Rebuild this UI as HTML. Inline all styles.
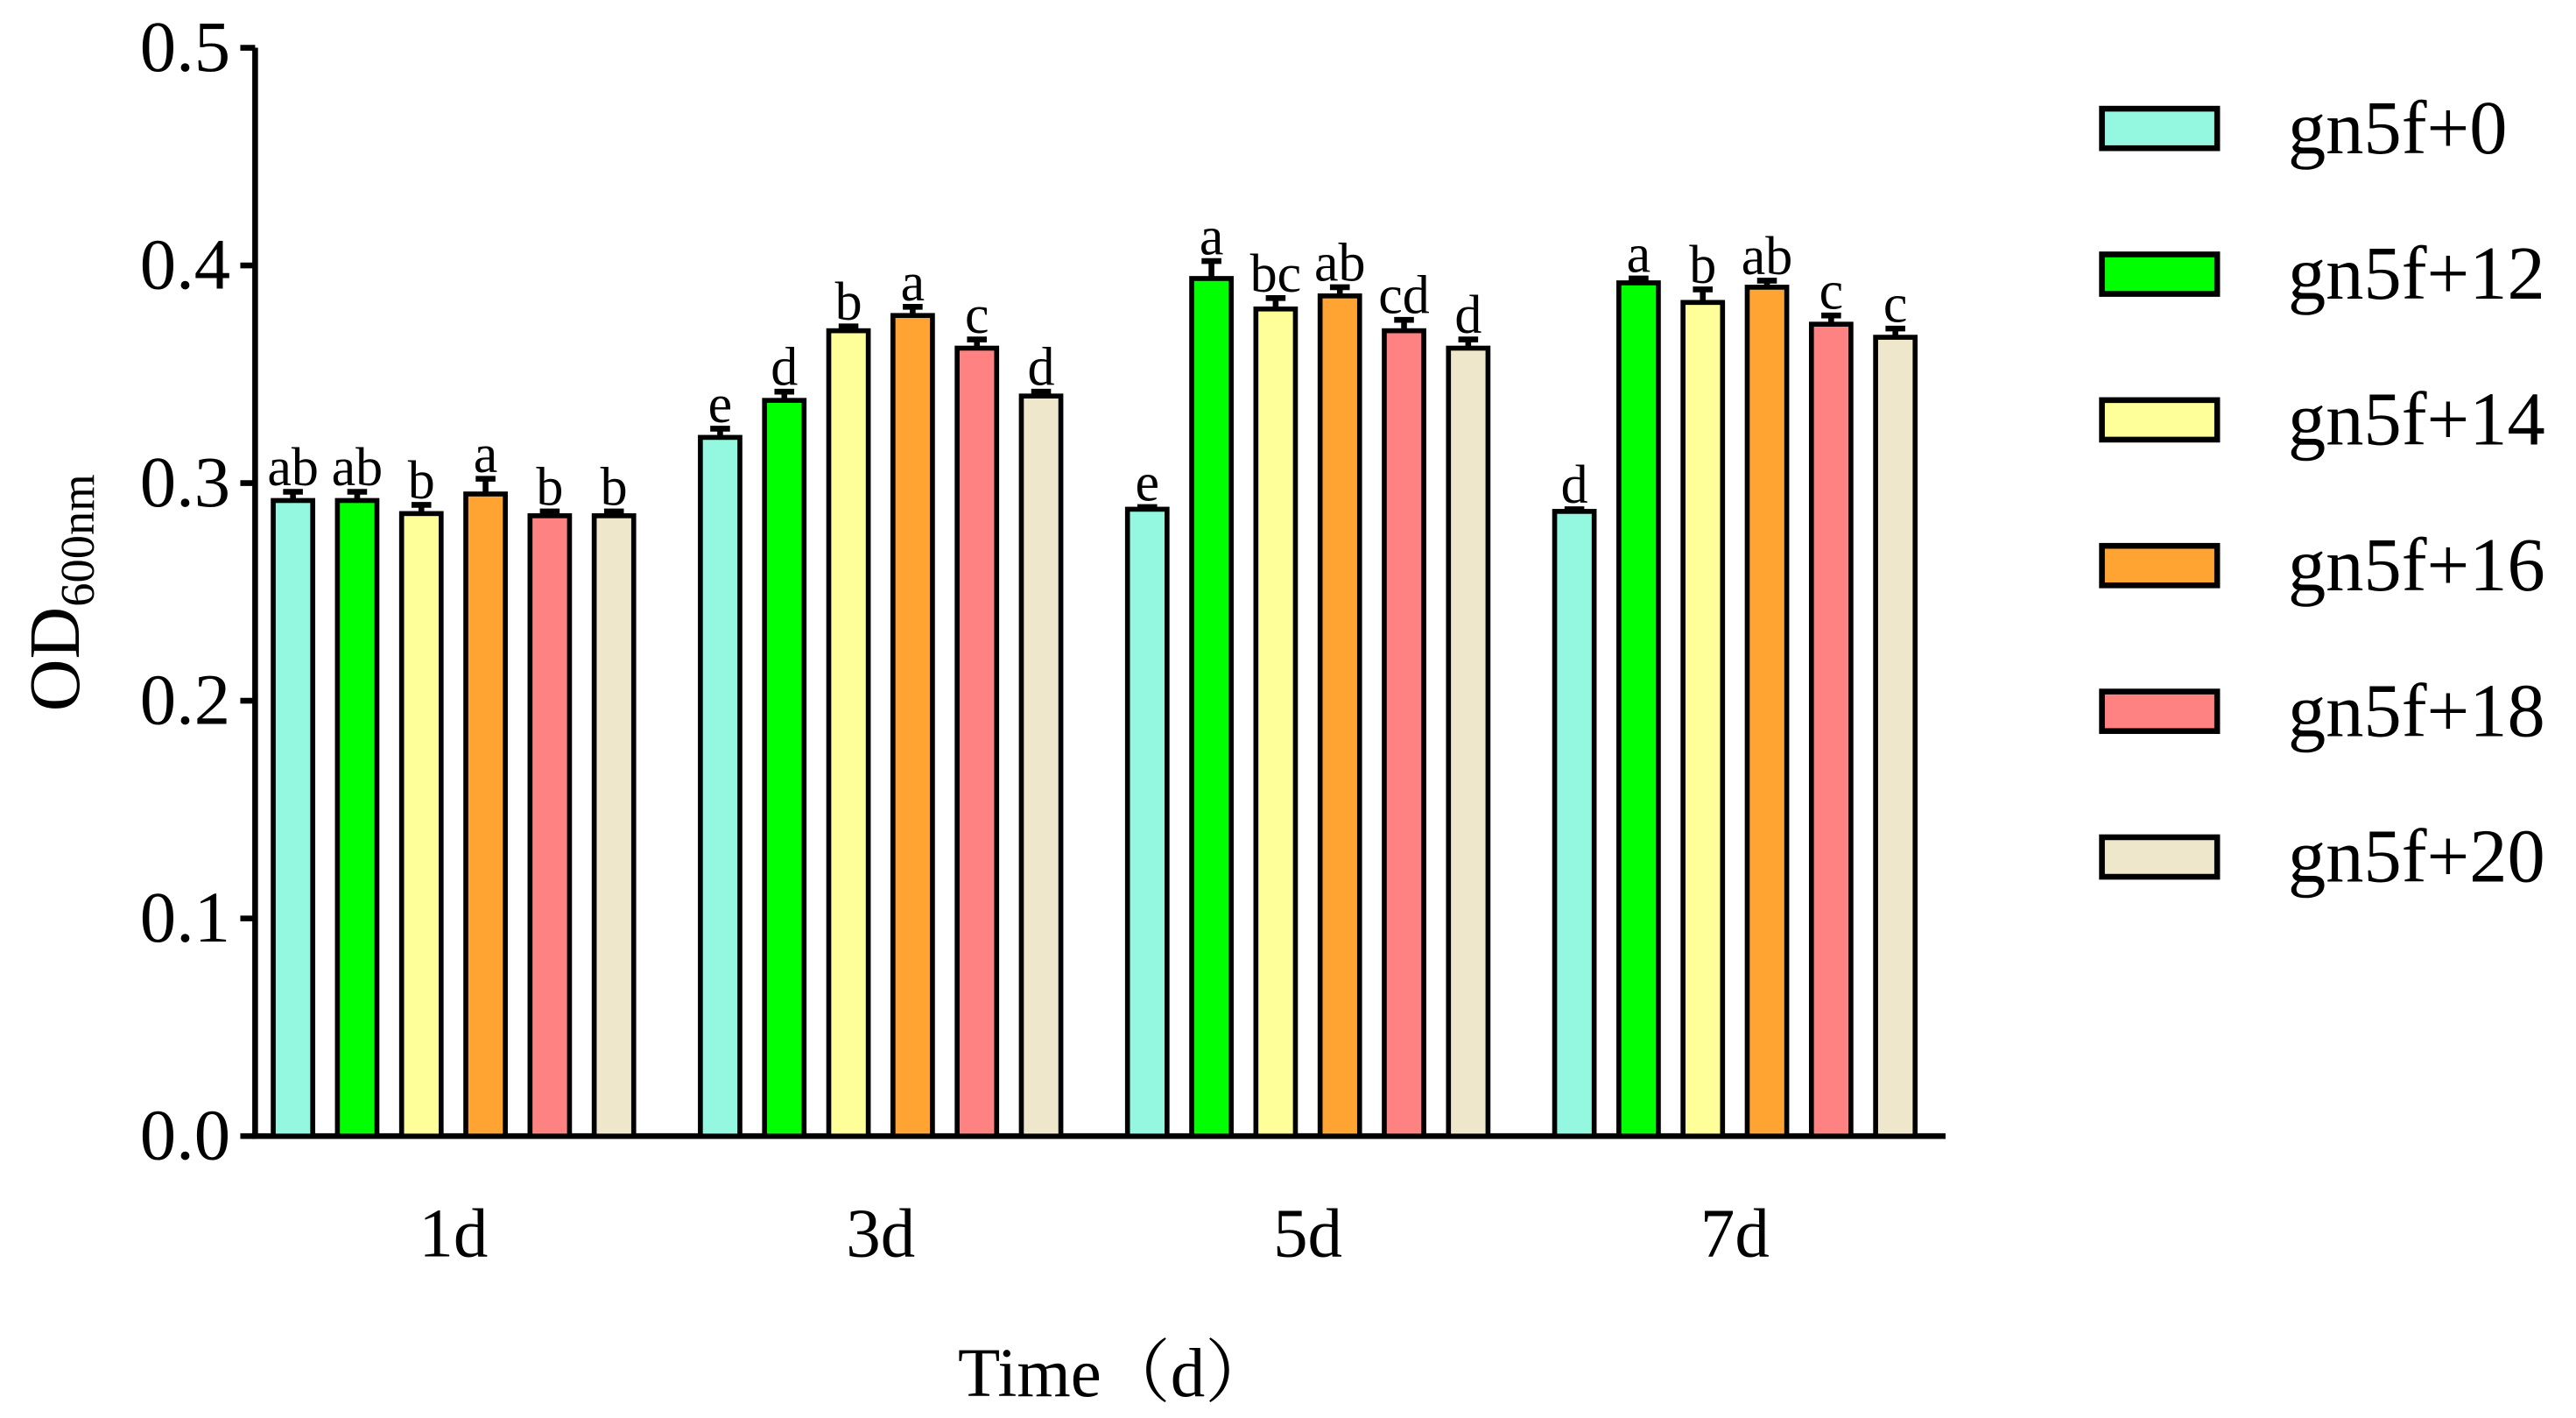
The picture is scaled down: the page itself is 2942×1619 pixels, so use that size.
<!DOCTYPE html>
<html><head><meta charset="utf-8"><style>
html,body{margin:0;padding:0;background:#fff;}
svg{display:block;font-family:"Liberation Serif","Noto Serif CJK SC",serif;}
</style></head><body>
<svg id="chart" width="2942" height="1619" viewBox="0 0 1565 861.2" xmlns="http://www.w3.org/2000/svg">
<g id="axes"></g>
<g id="bars"></g>
<g id="legend"></g>
<text transform="translate(48,360) rotate(-90)" text-anchor="middle" font-size="44">OD<tspan font-size="29" dy="9">600nm</tspan></text>
<text x="678" y="848" text-anchor="middle" font-size="42">Time（d）</text>
</svg>
<script>
const categories = ["1d","3d","5d","7d"];
const seriesNames = ["gn5f+0","gn5f+12","gn5f+14","gn5f+16","gn5f+18","gn5f+20"];
const colors = ["#94f7df","#00ff00","#ffff99","#ffa433","#ff8282","#efe7cb"];
const s0 = [0.292,0.321,0.288,0.287];
const s12 = [0.292,0.338,0.394,0.392];
const s14 = [0.286,0.370,0.380,0.383];
const s16 = [0.295,0.377,0.386,0.390];
const s18 = [0.285,0.362,0.370,0.373];
const s20 = [0.285,0.340,0.362,0.367];
const e0 = [0.004,0.004,0.001,0.001];
const e12 = [0.004,0.004,0.008,0.002];
const e14 = [0.004,0.002,0.005,0.006];
const e16 = [0.007,0.004,0.004,0.003];
const e18 = [0.002,0.004,0.005,0.004];
const e20 = [0.002,0.002,0.004,0.004];
const l0 = ["ab","e","e","d"];
const l12 = ["ab","d","a","a"];
const l14 = ["b","b","bc","b"];
const l16 = ["a","a","ab","ab"];
const l18 = ["b","c","cd","c"];
const l20 = ["b","d","d","c"];
const yTicks = [0.0,0.1,0.2,0.3,0.4,0.5];
const yTickLabels = ["0.0","0.1","0.2","0.3","0.4","0.5"];

const series=[s0,s12,s14,s16,s18,s20], errs=[e0,e12,e14,e16,e18,e20], lets=[l0,l12,l14,l16,l18,l20];
const NS="http://www.w3.org/2000/svg";
const X0=155, Y0=690, YT=29, XEND=1182;
const y=v=>Y0-(v/0.5)*(Y0-YT);
const groupStart=i=>166+i*259.5, barPitch=39, barW=24;
const x=(g,s)=>groupStart(g)+s*barPitch;
function mk(tag,attrs,parent){const e=document.createElementNS(NS,tag);for(const k in attrs)e.setAttribute(k,attrs[k]);parent.appendChild(e);return e;}
const axes=document.getElementById('axes');
let a=mk('line',{x1:X0,y1:YT,x2:X0,y2:Y0,stroke:'#000','stroke-width':3.5},axes);


a=mk('line',{x1:X0-1.7,y1:Y0,x2:XEND,y2:Y0,stroke:'#000','stroke-width':3.5},axes);


yTicks.forEach((t,i)=>{
  const tk=mk('line',{x1:X0-9,y1:y(t),x2:X0,y2:y(t),stroke:'#000','stroke-width':3.5},axes);
  
  
  const tl=mk('text',{x:140,y:y(t)+14,'text-anchor':'end','font-size':44},axes);
  
  
  tl.textContent=yTickLabels[i];
});
categories.forEach((c,g)=>{
  const cl=mk('text',{x:x(g,2.5)+barW/2,y:763,'text-anchor':'middle','font-size':42},axes);
  
  
  cl.textContent=c;
});
const bars=document.getElementById('bars');
series.forEach((sv,s)=>{
  sv.forEach((v,g)=>{
    const bx=x(g,s), top=y(v), et=y(v+errs[s][g]), cx=bx+barW/2;
    const eb=mk('path',{d:`M${cx},${top} L${cx},${et} M${cx-6},${et} L${cx+6},${et}`,stroke:'#000','stroke-width':3.5,fill:'none'},bars);
    
    
    const r=mk('rect',{x:bx,y:top,width:barW,height:Y0-top,fill:colors[s],stroke:'#000','stroke-width':3},bars);
    
    
    const t=mk('text',{x:cx,y:et-4,'text-anchor':'middle','font-size':33},bars);
    
    
    t.textContent=lets[s][g];
  });
});
const legend=document.getElementById('legend');
seriesNames.forEach((n,i)=>{
  const cy=78+i*88.5;
  const r=mk('rect',{x:1277,y:cy-12,width:70,height:24,fill:colors[i],stroke:'#000','stroke-width':3.5},legend);
  
  
  const t=mk('text',{x:1390,y:cy+15,'font-size':46},legend);
  
  
  t.textContent=n;
});
</script>
</body></html>
